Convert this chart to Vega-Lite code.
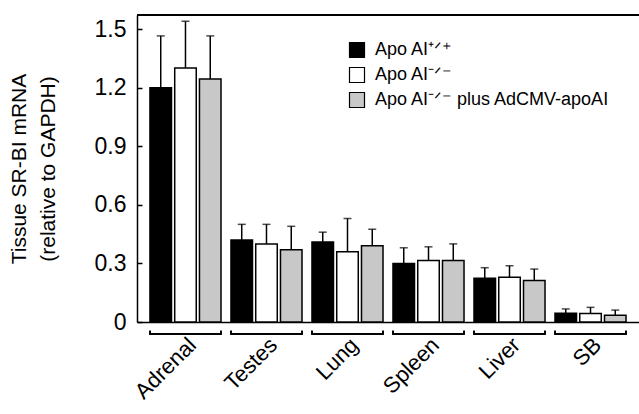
{
  "$schema": "https://vega.github.io/schema/vega-lite/v6.json",
  "width": 502,
  "height": 307,
  "autosize": "none",
  "padding": {"left": 137, "top": 15, "right": 0, "bottom": 92},
  "config": {
    "view": {"stroke": null},
    "font": "Liberation Sans",
    "axis": {"labelColor": "black", "titleColor": "black", "domainColor": "black", "tickColor": "black"}
  },
  "data": {
    "values": [
      {"Tissue": "Adrenal", "Group": "Apo AI⁺ᐟ⁺", "value": 1.2, "err": 1.465},
      {"Tissue": "Adrenal", "Group": "Apo AI⁻ᐟ⁻", "value": 1.3, "err": 1.54},
      {"Tissue": "Adrenal", "Group": "Apo AI⁻ᐟ⁻ plus AdCMV-apoAI", "value": 1.244, "err": 1.465},
      {"Tissue": "Testes", "Group": "Apo AI⁺ᐟ⁺", "value": 0.42, "err": 0.5},
      {"Tissue": "Testes", "Group": "Apo AI⁻ᐟ⁻", "value": 0.4, "err": 0.5},
      {"Tissue": "Testes", "Group": "Apo AI⁻ᐟ⁻ plus AdCMV-apoAI", "value": 0.37, "err": 0.49},
      {"Tissue": "Lung", "Group": "Apo AI⁺ᐟ⁺", "value": 0.41, "err": 0.46},
      {"Tissue": "Lung", "Group": "Apo AI⁻ᐟ⁻", "value": 0.36, "err": 0.53},
      {"Tissue": "Lung", "Group": "Apo AI⁻ᐟ⁻ plus AdCMV-apoAI", "value": 0.39, "err": 0.475},
      {"Tissue": "Spleen", "Group": "Apo AI⁺ᐟ⁺", "value": 0.3, "err": 0.38},
      {"Tissue": "Spleen", "Group": "Apo AI⁻ᐟ⁻", "value": 0.315, "err": 0.385},
      {"Tissue": "Spleen", "Group": "Apo AI⁻ᐟ⁻ plus AdCMV-apoAI", "value": 0.315, "err": 0.4},
      {"Tissue": "Liver", "Group": "Apo AI⁺ᐟ⁺", "value": 0.224, "err": 0.278},
      {"Tissue": "Liver", "Group": "Apo AI⁻ᐟ⁻", "value": 0.229, "err": 0.288},
      {"Tissue": "Liver", "Group": "Apo AI⁻ᐟ⁻ plus AdCMV-apoAI", "value": 0.213, "err": 0.271},
      {"Tissue": "SB", "Group": "Apo AI⁺ᐟ⁺", "value": 0.045, "err": 0.067},
      {"Tissue": "SB", "Group": "Apo AI⁻ᐟ⁻", "value": 0.043, "err": 0.075},
      {"Tissue": "SB", "Group": "Apo AI⁻ᐟ⁻ plus AdCMV-apoAI", "value": 0.034, "err": 0.061}
    ]
  },
  "layer": [
    {
      "mark": {"type": "bar", "stroke": "black", "strokeWidth": 1.5},
      "encoding": {
        "x": {
          "field": "Tissue",
          "type": "nominal",
          "sort": ["Adrenal", "Testes", "Lung", "Spleen", "Liver", "SB"],
          "scale": {"paddingInner": 0.123, "paddingOuter": 0.16},
          "axis": {
            "title": null,
            "ticks": false,
            "domainWidth": 1.5,
            "labelAngle": -45,
            "labelAlign": "right",
            "labelBaseline": "top",
            "labelPadding": 12,
            "labelFontSize": 22
          }
        },
        "xOffset": {
          "field": "Group",
          "type": "nominal",
          "sort": ["Apo AI⁺ᐟ⁺", "Apo AI⁻ᐟ⁻", "Apo AI⁻ᐟ⁻ plus AdCMV-apoAI"],
          "scale": {"paddingInner": 0.13}
        },
        "y": {
          "field": "value",
          "type": "quantitative",
          "scale": {"domain": [0, 1.572], "nice": false},
          "axis": {
            "title": ["Tissue SR-BI mRNA", "(relative to GAPDH)"],
            "titleFontSize": 21,
            "titleFontWeight": "normal",
            "titleLineHeight": 29,
            "titlePadding": 36,
            "values": [0, 0.3, 0.6, 0.9, 1.2, 1.5],
            "labelExpr": "datum.value == 0 ? '0' : format(datum.value, '.1f')",
            "labelFontSize": 23,
            "tickSize": -5,
            "tickWidth": 1.5,
            "domainWidth": 1.5,
            "labelPadding": 16,
            "grid": false
          }
        },
        "color": {
          "field": "Group",
          "type": "nominal",
          "sort": ["Apo AI⁺ᐟ⁺", "Apo AI⁻ᐟ⁻", "Apo AI⁻ᐟ⁻ plus AdCMV-apoAI"],
          "scale": {"range": ["black", "white", "#c8c8c8"]},
          "legend": {
            "title": null,
            "orient": "none",
            "legendX": 211,
            "legendY": 26,
            "symbolType": "square",
            "symbolSize": 225,
            "symbolStrokeColor": "black",
            "symbolStrokeWidth": 1.2,
            "symbolOpacity": 1,
            "labelFontSize": 18,
            "labelColor": "black",
            "labelLimit": 400,
            "labelOffset": 9,
            "rowPadding": 5
          }
        }
      }
    },
    {
      "mark": {"type": "rule", "color": "black", "strokeWidth": 1.5},
      "encoding": {
        "x": {"field": "Tissue", "type": "nominal", "sort": ["Adrenal", "Testes", "Lung", "Spleen", "Liver", "SB"]},
        "xOffset": {"field": "Group", "type": "nominal", "sort": ["Apo AI⁺ᐟ⁺", "Apo AI⁻ᐟ⁻", "Apo AI⁻ᐟ⁻ plus AdCMV-apoAI"]},
        "y": {"field": "value", "type": "quantitative"},
        "y2": {"field": "err"}
      }
    },
    {
      "mark": {"type": "tick", "color": "black", "thickness": 1.5, "size": 8, "orient": "horizontal"},
      "encoding": {
        "x": {"field": "Tissue", "type": "nominal", "sort": ["Adrenal", "Testes", "Lung", "Spleen", "Liver", "SB"]},
        "xOffset": {"field": "Group", "type": "nominal", "sort": ["Apo AI⁺ᐟ⁺", "Apo AI⁻ᐟ⁻", "Apo AI⁻ᐟ⁻ plus AdCMV-apoAI"]},
        "y": {"field": "err", "type": "quantitative"}
      }
    },
    {
      "mark": {"type": "bar", "color": "black"},
      "encoding": {
        "x": {"field": "Tissue", "type": "nominal", "sort": ["Adrenal", "Testes", "Lung", "Spleen", "Liver", "SB"]},
        "y": {"datum": -0.0575, "type": "quantitative"},
        "y2": {"datum": -0.0655}
      }
    },
    {
      "mark": {"type": "rule", "color": "black", "strokeWidth": 1.5},
      "encoding": {
        "x": {"field": "Tissue", "type": "nominal", "bandPosition": 0, "sort": ["Adrenal", "Testes", "Lung", "Spleen", "Liver", "SB"]},
        "y": {"datum": -0.065, "type": "quantitative"},
        "y2": {"datum": -0.045}
      }
    },
    {
      "mark": {"type": "rule", "color": "black", "strokeWidth": 1.5},
      "encoding": {
        "x": {"field": "Tissue", "type": "nominal", "bandPosition": 1, "sort": ["Adrenal", "Testes", "Lung", "Spleen", "Liver", "SB"]},
        "y": {"datum": -0.065, "type": "quantitative"},
        "y2": {"datum": -0.045}
      }
    },
    {
      "mark": {"type": "rule", "color": "black", "strokeWidth": 1.5},
      "encoding": {
        "y": {"datum": 1.572, "type": "quantitative"}
      }
    }
  ]
}
